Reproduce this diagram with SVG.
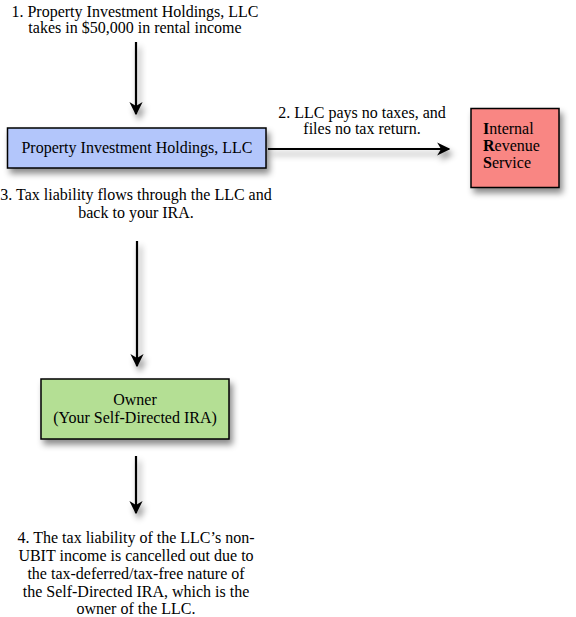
<svg xmlns="http://www.w3.org/2000/svg" width="576" height="617" viewBox="0 0 576 617">
<defs>
<style>
text{font-family:"Liberation Serif","Times New Roman",serif;font-size:16px;fill:#000}
.c{text-anchor:middle}
.box{stroke:#000;stroke-width:1.5}
.conn{stroke:#000;stroke-width:2.2;fill:none}
</style>
<filter id="sh" x="-20%" y="-20%" width="150%" height="160%">
<feDropShadow dx="3" dy="5" stdDeviation="3" flood-color="#000" flood-opacity="0.45"/>
</filter>
<marker id="ah" viewBox="0 0 10 10" refX="9" refY="5" markerWidth="6" markerHeight="6" markerUnits="strokeWidth" orient="auto">
<path d="M0,0 L10,5 L0,10 L3,5 z" fill="#000"/>
</marker>
</defs>
<rect width="576" height="617" fill="#fff"/>
<g id="connectors" filter="url(#sh)">
<line class="conn" x1="136" y1="42" x2="136" y2="114" marker-end="url(#ah)"/>
<line class="conn" x1="268" y1="149" x2="449" y2="149" marker-end="url(#ah)"/>
<line class="conn" x1="137" y1="241" x2="137" y2="366" marker-end="url(#ah)"/>
<line class="conn" x1="136" y1="456" x2="136" y2="513" marker-end="url(#ah)"/>
</g>
<g id="label1">
<text class="c" x="135" y="17">1. Property Investment Holdings, LLC</text>
<text class="c" x="135" y="33">takes in $50,000 in rental income</text>
</g>
<g id="llc">
<rect class="box" x="7.5" y="128" width="258.5" height="40" fill="#b3c6fb" filter="url(#sh)"/>
<text class="c" x="137" y="153">Property Investment Holdings, LLC</text>
</g>
<g id="label2">
<text class="c" x="362" y="118">2. LLC pays no taxes, and</text>
<text class="c" x="362" y="134">files no tax return.</text>
</g>
<g id="irs">
<rect class="box" x="471" y="108.5" width="88" height="79" fill="#f98683" filter="url(#sh)"/>
<text x="483" y="134"><tspan font-weight="bold">I</tspan>nternal</text>
<text x="483" y="151"><tspan font-weight="bold">R</tspan>evenue</text>
<text x="483" y="168"><tspan font-weight="bold">S</tspan>ervice</text>
</g>
<g id="label3">
<text class="c" x="136" y="200">3. Tax liability flows through the LLC and</text>
<text class="c" x="136" y="218">back to your IRA.</text>
</g>
<g id="owner">
<rect class="box" x="41" y="379" width="188" height="60" fill="#b4df94" filter="url(#sh)"/>
<text class="c" x="135" y="405">Owner</text>
<text class="c" x="135" y="423">(Your Self-Directed IRA)</text>
</g>
<g id="label4">
<text class="c" x="136" y="543">4.  The tax liability of the LLC’s non-</text>
<text class="c" x="136" y="561">UBIT income is cancelled out due to</text>
<text class="c" x="136" y="579">the tax-deferred/tax-free nature of</text>
<text class="c" x="136" y="597">the Self-Directed IRA, which is the</text>
<text class="c" x="136" y="614">owner of the LLC.</text>
</g>
</svg>
